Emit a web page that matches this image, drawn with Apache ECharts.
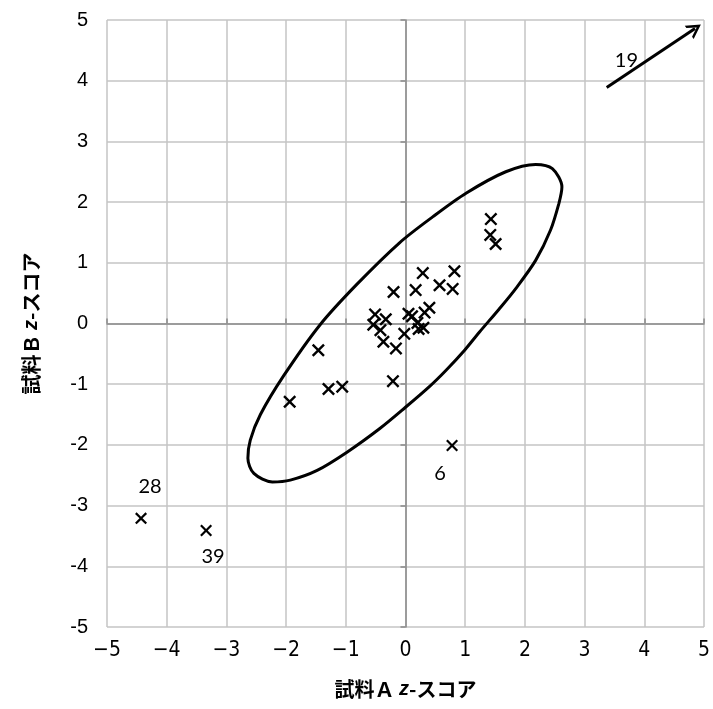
<!DOCTYPE html>
<html>
<head>
<meta charset="utf-8">
<script src="https://cdn.jsdelivr.net/npm/echarts@6/dist/echarts.min.js"></script>
<style>
html,body{margin:0;padding:0;background:#fff;}
#chart{width:713px;height:709px;}
</style>
</head>
<body>
<div id="chart"></div>
<script>
// Tick labels
const xTickValues = [-5,-4,-3,-2,-1,0,1,2,3,4,5];
const xTickLabels = ['\u22125','\u22124','\u22123','\u22122','\u22121','0','1','2','3','4','5'];
const yTickLabels = ['-5','-4','-3','-2','-1','0','1','2','3','4','5'];

// Laboratory z-scores (sample A, sample B)
const sampleA = [1.43, 1.42, 1.51, 0.29, 0.82, 0.57, 0.79, -0.20, 0.17, 0.40, 0.32, -0.51, -0.33, 0.05, 0.11, 0.20, 0.30, 0.22, -0.54, -0.42, -0.37, -0.02, -0.16, -1.46, -1.29, -1.06, -0.21, -1.94];
const sampleB = [1.72, 1.46, 1.31, 0.83, 0.86, 0.63, 0.57, 0.52, 0.55, 0.26, 0.18, 0.15, 0.07, 0.16, 0.12, 0.01, -0.07, -0.09, -0.02, -0.11, -0.30, -0.17, -0.41, -0.44, -1.08, -1.04, -0.95, -1.29];

// Labelled outliers
const outlierIds = ['6', '28', '39'];
const outlierA = [0.78, -4.43, -3.34];
const outlierB = [-2.01, -3.21, -3.41];

// Hand-drawn confidence ellipse outline
const ellipseA = [2.57, 2.62, 2.46, 2.18, 1.68, 1.02, 0.46, -0.10, -0.82, -1.43, -2.04, -2.43, -2.60, -2.64, -2.54, -2.23, -1.93, -1.48, -0.98, -0.43, 0.00, 0.40, 0.68, 0.99, 1.24, 1.57, 1.85, 2.18, 2.43, 2.57];
const ellipseB = [1.98, 2.25, 2.55, 2.62, 2.50, 2.15, 1.76, 1.33, 0.64, -0.02, -0.86, -1.50, -1.92, -2.22, -2.47, -2.61, -2.58, -2.42, -2.12, -1.73, -1.38, -1.04, -0.77, -0.44, -0.14, 0.24, 0.58, 1.04, 1.54, 1.98];

// Off-scale lab 19: arrow and label
const arrowFrom = [3.37, 3.89];
const arrowTo = [4.85, 4.86];
const lab19 = {id: '19', a: 3.70, b: 4.33};

const crossPath = 'path://M1.3,0L5,3.7L8.7,0L10,1.3L6.3,5L10,8.7L8.7,10L5,6.3L1.3,10L0,8.7L3.7,5L0,1.3Z';
const chevronPath = 'path://M0,10L5,0L10,10L8.2,10L5,3.6L1.8,10Z';
const cjk = '"Noto Sans CJK JP", "Liberation Sans", sans-serif';
const noteFont = 'Lato, "Open Sans", "Liberation Sans", sans-serif';

const chart = echarts.init(document.getElementById('chart'));

const titleRich = {
  a: {fontFamily: cjk, fontWeight: 'bold', fontSize: 20, color: '#000'},
  z: {fontFamily: '"Liberation Sans", sans-serif', fontStyle: 'italic', fontWeight: 'bold', fontSize: 20, color: '#000'}
};

const option = {
  animation: false,
  backgroundColor: '#fff',
  grid: {left: 107, right: 8, top: 20, bottom: 82, show: false},
  xAxis: [{
    type: 'value', min: -5, max: 5, interval: 1,
    axisLine: {show: false, onZero: false},
    axisTick: {show: false},
    splitLine: {show: true, lineStyle: {color: '#c4c4c4', width: 1.5}},
    axisLabel: {
      margin: 13, color: '#000', fontSize: 21,
      fontFamily: '"Liberation Sans Narrow", "DejaVu Sans Condensed", sans-serif',
      formatter: v => xTickLabels[xTickValues.indexOf(Math.round(v))]
    },
    name: '{a|試料Ａ }{z|z}{a|-スコア}',
    nameLocation: 'middle', nameGap: 52,
    nameTextStyle: {rich: titleRich}
  }, {
    type: 'value', min: -5, max: 5, interval: 1,
    axisLine: {show: true, onZero: true, lineStyle: {color: '#8a8a8a', width: 1.5}},
    axisTick: {show: true, length: 5, lineStyle: {color: '#8a8a8a', width: 1.5}},
    axisLabel: {show: false},
    splitLine: {show: false}
  }],
  yAxis: [{
    type: 'value', min: -5, max: 5, interval: 1,
    axisLine: {show: false, onZero: false},
    axisTick: {show: false},
    splitLine: {show: true, lineStyle: {color: '#c4c4c4', width: 1.5}},
    axisLabel: {
      margin: 19, color: '#000', fontSize: 20,
      fontFamily: '"Liberation Sans", Arial, sans-serif',
      formatter: v => yTickLabels[Math.round(v) + 5]
    },
    name: '{a|試料Ｂ }{z|z}{a|-スコア}',
    nameLocation: 'middle', nameGap: 66, nameRotate: 90,
    nameTextStyle: {rich: titleRich}
  }, {
    type: 'value', min: -5, max: 5, interval: 1, position: 'left',
    axisLine: {show: true, onZero: true, lineStyle: {color: '#8a8a8a', width: 1.5}},
    axisTick: {show: true, length: 5, lineStyle: {color: '#8a8a8a', width: 1.5}},
    axisLabel: {show: false},
    splitLine: {show: false}
  }],
  series: [
    {
      type: 'line',
      data: ellipseA.map((a, i) => [a, ellipseB[i]]),
      smooth: 0.3,
      symbol: 'none',
      lineStyle: {color: '#000', width: 3},
      z: 3
    },
    {
      type: 'scatter',
      data: sampleA.map((a, i) => [a, sampleB[i]]),
      symbol: crossPath,
      symbolSize: 13,
      itemStyle: {color: '#000', opacity: 1},
      z: 4
    },
    {
      type: 'scatter',
      data: outlierA.map((a, i) => {
        const id = outlierIds[i];
        const d = {value: [a, outlierB[i]], name: id};
        const common = {show: true, color: '#000', fontSize: 20, fontFamily: noteFont, formatter: p => p.name};
        if (id === '6') d.label = Object.assign({}, common, {position: 'bottom', offset: [-12, 7]});
        if (id === '28') d.label = Object.assign({}, common, {position: 'top', offset: [9, -11]});
        if (id === '39') d.label = Object.assign({}, common, {position: 'bottom', offset: [7, 5]});
        return d;
      }),
      symbol: crossPath,
      symbolSize: 12,
      itemStyle: {color: '#000', opacity: 1},
      label: {show: true, color: '#000', fontSize: 20, fontFamily: noteFont, formatter: p => p.name},
      z: 4
    },
    {
      type: 'scatter',
      data: [{value: [lab19.a, lab19.b], name: lab19.id}],
      symbolSize: 0,
      itemStyle: {opacity: 1},
      label: {show: true, position: 'inside', formatter: p => p.name, color: '#000', fontSize: 20, fontFamily: noteFont},
      markLine: {
        silent: true,
        symbol: ['none', chevronPath],
        symbolSize: [16, 14],
        label: {show: false},
        lineStyle: {color: '#000', width: 3, type: 'solid', opacity: 1},
        data: [[{coord: arrowFrom}, {coord: arrowTo}]]
      },
      z: 5
    }
  ]
};
chart.setOption(option);
</script>
</body>
</html>
